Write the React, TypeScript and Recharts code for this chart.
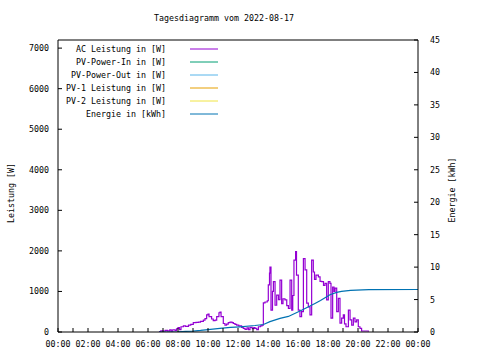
import { LineChart, Line, XAxis, YAxis } from "recharts";

// AC power (hours since midnight / watts)
const acHours = [
  6.73, 6.85, 7.0, 7.15, 7.3, 7.45, 7.55, 7.65, 7.8, 7.9, 8.0, 8.1, 8.2, 8.36, 8.5, 8.7, 8.85,
  9.02, 9.2, 9.36, 9.5, 9.69, 9.8, 9.91, 10.0, 10.07, 10.24, 10.35, 10.47, 10.58, 10.73, 10.8,
  10.87, 11.02, 11.13, 11.24, 11.35, 11.47, 11.6, 11.69, 11.8, 11.91, 12.05, 12.24, 12.35, 12.47,
  12.6, 12.7, 12.8, 12.95, 13.05, 13.13, 13.25, 13.36, 13.5, 13.6, 13.69, 13.8, 13.95, 14.02,
  14.1, 14.13, 14.2, 14.3, 14.36, 14.47, 14.58, 14.7, 14.8, 14.91, 15.0, 15.13, 15.25, 15.36,
  15.47, 15.58, 15.65, 15.73, 15.84, 15.9, 16.02, 16.13, 16.24, 16.36, 16.47, 16.58, 16.69,
  16.8, 16.91, 17.02, 17.1, 17.2, 17.36, 17.47, 17.58, 17.7, 17.8, 17.91, 18.02, 18.13, 18.2,
  18.31, 18.4, 18.47, 18.58, 18.69, 18.8, 18.91, 19.02, 19.1, 19.2, 19.36, 19.47, 19.58, 19.69,
  19.8, 19.91, 20.02, 20.13, 20.24, 20.69, 20.73,
];
const acWatts = [
  10, 30, 25, 40, 30, 50, 20, 55, 40, 80, 110, 60, 130, 150, 140, 170, 190,
  230, 235, 245, 260, 295, 330, 420, 440, 380, 320, 280, 295, 380, 475, 490,
  380, 210, 170, 195, 230, 245, 230, 210, 190, 170, 150, 115, 90, 65,
  100, 60, 115, 80, 110, 90, 60, 130, 150, 170, 720, 740, 770, 1160,
  1450, 1600, 540, 1000, 1240, 660, 910, 800, 1280, 700, 820, 790, 650, 580,
  1280, 540, 900, 1770, 1980, 1400, 540, 380, 500, 1810, 1530, 710, 620,
  420, 1770, 1480, 1300, 1400, 1360, 1250, 1240, 1150, 1200, 790, 1240, 1200, 340,
  1110, 1000, 1080, 500, 830, 220, 340, 420, 200, 130, 540, 300, 170, 340,
  250, 300, 130, 90, 25, 20, 20,
];

// daily energy (kWh)
const energyHours = [
  6.73, 8.0, 8.5, 9.0, 9.5, 10.0, 10.8, 11.5, 12.13, 13.13, 13.7, 14.13, 14.8, 15.36, 16.24,
  16.8, 17.13, 17.5, 18.13, 18.58, 18.9, 19.5, 20.3, 20.73, 24,
];
const energyKwh = [
  0, 0.02, 0.1, 0.15, 0.25, 0.38, 0.56, 0.7, 0.8, 1.0, 1.15, 1.6, 2.1, 2.4, 3.36,
  4.0, 4.4, 4.85, 5.75, 6.1, 6.25, 6.4, 6.5, 6.52, 6.55,
];

const hourTicks = Array.from({ length: 25 }, (_, i) => i);
const wattTicks = [0, 1000, 2000, 3000, 4000, 5000, 6000, 7000];
const kwhTicks = [0, 5, 10, 15, 20, 25, 30, 35, 40, 45];

const legendItems = [
  { label: "AC Leistung in [W]", color: "#9400d3" },
  { label: "PV-Power-In in [W]", color: "#009e73" },
  { label: "PV-Power-Out in [W]", color: "#56b4e9" },
  { label: "PV-1 Leistung in [W]", color: "#e69f00" },
  { label: "PV-2 Leistung in [W]", color: "#f0e442" },
  { label: "Energie in [kWh]", color: "#0072b2" },
];

const acData = acHours.map((h, i) => ({ h, w: acWatts[i] }));
const energyData = energyHours.map((h, i) => ({ h, e: energyKwh[i] }));

const FONT = "'DejaVu Sans Mono', monospace";
const tickStyle = { fontSize: 8.3, fill: "#000", fontFamily: FONT };
const line = { stroke: "#000" };

function fmtHour(h: number) {
  if (h % 2 !== 0) return "";
  return `${String(h % 24 === 0 && h > 0 ? 0 : h).padStart(2, "0")}:00`;
}

export default function App() {
  return (
    <div style={{ position: "absolute", left: 0, top: 0, width: 480, height: 360, background: "#fff" }}>
      <LineChart width={480} height={360} margin={{ top: 39, right: 0, bottom: 0, left: 0 }}>
        <XAxis
          dataKey="h"
          type="number"
          domain={[0, 24]}
          ticks={hourTicks}
          tickFormatter={fmtHour}
          interval={0}
          height={28}
          tickSize={-4}
          tickMargin={13}
          tick={tickStyle}
          axisLine={line}
          tickLine={line}
          allowDataOverflow
        />
        <XAxis
          xAxisId="top"
          orientation="top"
          dataKey="h"
          type="number"
          domain={[0, 24]}
          ticks={hourTicks}
          interval={0}
          height={1}
          tickSize={-4}
          tick={false}
          axisLine={line}
          tickLine={line}
        />
        <YAxis
          yAxisId="w"
          domain={[0, 7200]}
          ticks={wattTicks}
          interval={0}
          width={58}
          tickSize={-4}
          tickMargin={13}
          tick={tickStyle}
          axisLine={line}
          tickLine={line}
          allowDataOverflow
        />
        <YAxis
          yAxisId="w2"
          orientation="right"
          domain={[0, 7200]}
          ticks={wattTicks}
          interval={0}
          width={0}
          tickSize={-4}
          tick={false}
          axisLine={line}
          tickLine={line}
        />
        <YAxis
          yAxisId="e"
          orientation="right"
          domain={[0, 45]}
          ticks={kwhTicks}
          interval={0}
          width={62}
          tickSize={-4}
          tickMargin={16}
          tick={tickStyle}
          axisLine={line}
          tickLine={line}
          allowDataOverflow
        />
        <Line
          yAxisId="w"
          data={acData}
          dataKey="w"
          type="stepAfter"
          stroke="#9400d3"
          strokeWidth={1.2}
          dot={false}
          isAnimationActive={false}
        />
        <Line
          yAxisId="e"
          data={energyData}
          dataKey="e"
          type="linear"
          stroke="#0072b2"
          strokeWidth={1.2}
          dot={false}
          isAnimationActive={false}
        />
      </LineChart>

      {/* title, axis titles and key, gnuplot style */}
      <svg
        width={480}
        height={360}
        style={{ position: "absolute", left: 0, top: 0, pointerEvents: "none" }}
        fontFamily={FONT}
        fontSize={8.3}
      >
        <text x={224} y={21} textAnchor="middle">Tagesdiagramm vom 2022-08-17</text>
        <text x={14} y={193} textAnchor="middle" transform="rotate(-90 14 193)">Leistung [W]</text>
        <text x={455} y={190} textAnchor="middle" transform="rotate(-90 455 190)">Energie [kWh]</text>
        {legendItems.map((it, i) => (
          <g key={it.label}>
            <text x={166} y={49 + i * 13 + 3} textAnchor="end">{it.label}</text>
            <line x1={190} x2={218} y1={49 + i * 13} y2={49 + i * 13} stroke={it.color} strokeWidth={1} />
          </g>
        ))}
      </svg>
    </div>
  );
}
